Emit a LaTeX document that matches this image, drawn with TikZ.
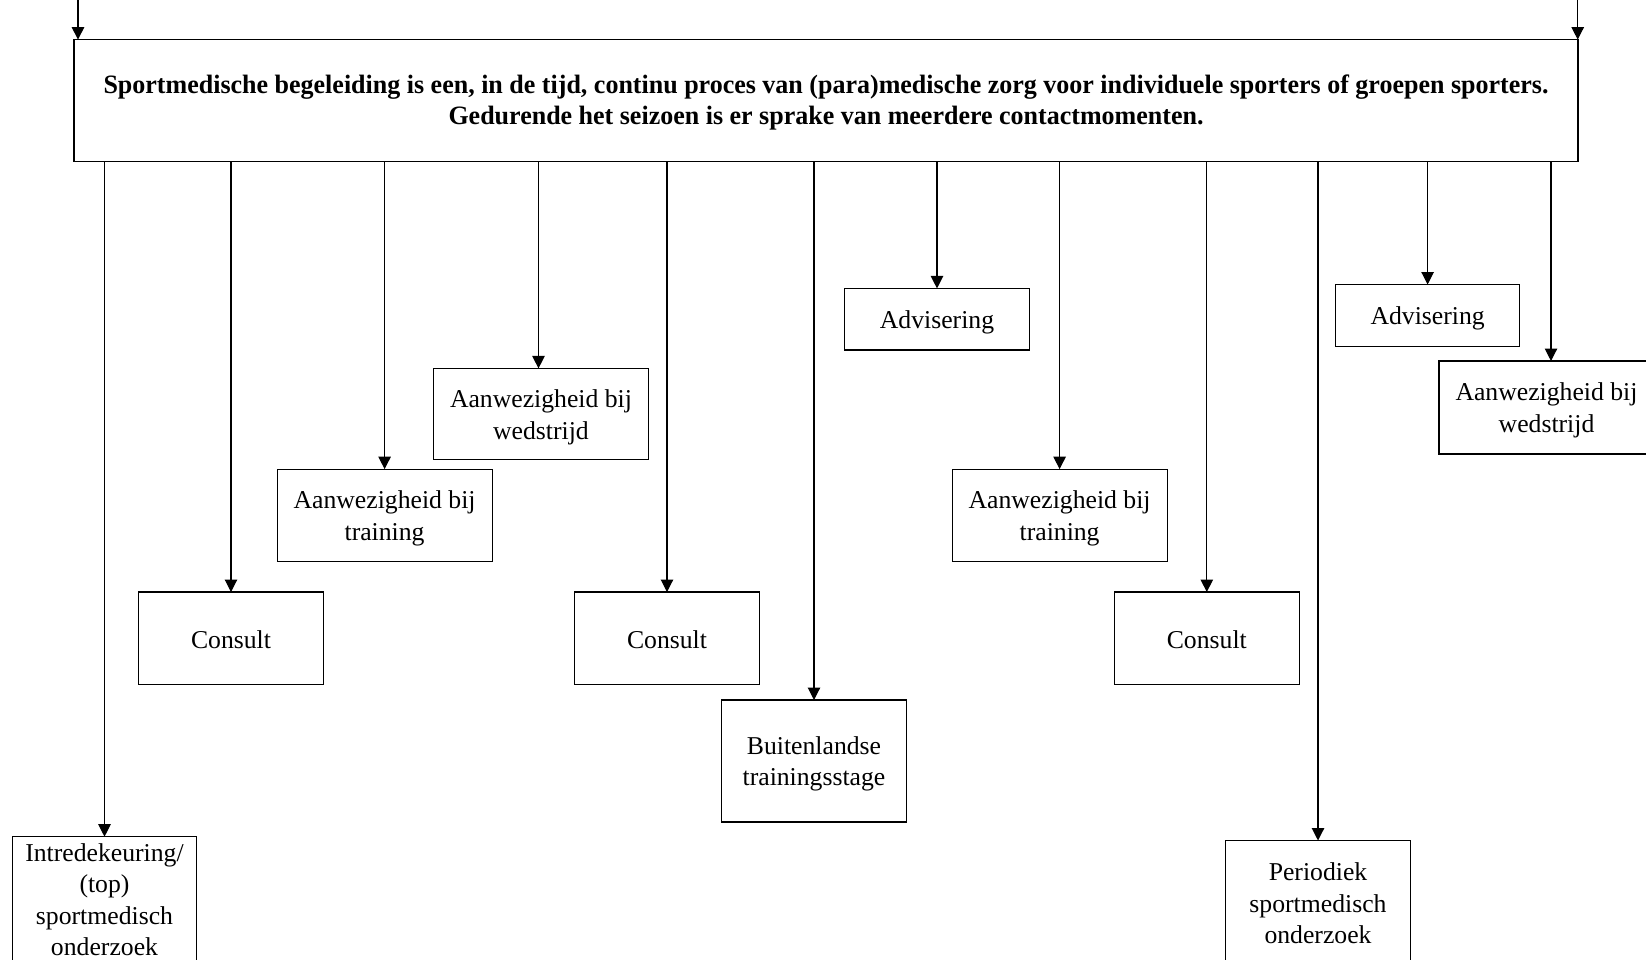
\documentclass[tikz,border=0pt]{standalone}
\usepackage{graphicx}
\usepackage{fontspec}
\setmainfont{Liberation Serif}
\usetikzlibrary{arrows.meta}
\newcommand\lowr[2][2.5pt]{\raisebox{-#1}[\height][\depth]{#2}}
\begin{document}
\begin{tikzpicture}[x=1pt,y=-1pt,
  box/.style={draw,line width=1.1pt,inner sep=0pt,outer sep=0pt,align=center,
    font=\fontsize{25.7}{31.5}\selectfont},
  smallbox/.style={box,minimum width=184.5pt,minimum height=92.4pt},
  widebox/.style={box,minimum width=215pt,minimum height=92.4pt},
  advbox/.style={box,minimum width=184.5pt,minimum height=61.5pt},
  tallbox/.style={box,minimum width=184.5pt,minimum height=123pt},
  mainbox/.style={draw,line width=1.1pt,inner sep=0pt,outer sep=0pt,align=center,
    minimum width=1504pt,minimum height=122.3pt,
    font=\fontsize{26.5}{31}\selectfont\bfseries},
  arr/.style={line width=1.1pt,-{Triangle[length=12.5pt,width=12.5pt]}}]
\useasboundingbox (0,0) rectangle (1646,960);
\clip (0,0) rectangle (1646,960);

\node[mainbox] (main) at (826,100.75)
  {\lowr[2.1pt]{\resizebox{1445pt}{\height}{Sportmedische begeleiding is een, in de tijd, continu proces van (para)medische zorg voor individuele sporters of groepen sporters.}}\\
   \lowr[2.1pt]{\resizebox{755pt}{\height}{Gedurende het seizoen is er sprake van meerdere contactmomenten.}}};

\node[tallbox,minimum height=124pt] (intre) at (104.5,898.7) {\lowr[1pt]{Intredekeuring/}\\\lowr[1pt]{(top)}\\\lowr[1pt]{sportmedisch}\\\lowr[1pt]{onderzoek}};
\node[smallbox] (consult1) at (231,638.2) {\lowr[1.2pt]{Consult}};
\node[widebox] (train1) at (384.6,515.3) {\lowr[3pt]{Aanwezigheid bij}\\\lowr[3pt]{training}};
\node[widebox,minimum height=91.4pt] (wed1) at (541,414.1) {\lowr[3pt]{Aanwezigheid bij}\\\lowr[3pt]{wedstrijd}};
\node[smallbox] (consult2) at (667,638.2) {\lowr[1.2pt]{Consult}};
\node[tallbox,minimum height=122pt] (buiten) at (814,761) {\lowr[3pt]{Buitenlandse}\\\lowr[3pt]{trainingsstage}};
\node[advbox] (advis1) at (937,319.2) {\lowr[3pt]{Advisering}};
\node[widebox] (train2) at (1059.6,515.3) {\lowr[3pt]{Aanwezigheid bij}\\\lowr[3pt]{training}};
\node[smallbox] (consult3) at (1206.8,638.2) {\lowr[1.2pt]{Consult}};
\node[tallbox] (period) at (1318,902) {\lowr[1.5pt]{Periodiek}\\\lowr[1.5pt]{sportmedisch}\\\lowr[1.5pt]{onderzoek}};
\node[advbox,minimum height=62pt] (advis2) at (1427.6,315.5) {\lowr[3pt]{Advisering}};
\node[widebox,minimum height=93pt] (wed2) at (1546.5,407.5) {\lowr[3pt]{Aanwezigheid bij}\\\lowr[3pt]{wedstrijd}};

\coordinate (tl) at (78,0);
\coordinate (tr) at (1577.7,0);
\draw[arr] (tl) -- (tl |- main.north);
\draw[arr] (tr) -- (tr |- main.north);

\coordinate (w1) at ([xshift=-2.5pt]wed1.north);
\coordinate (w2) at ([xshift=4.5pt]wed2.north);

\draw[arr] (main.south -| intre.north) -- (intre.north);
\draw[arr] (main.south -| consult1.north) -- (consult1.north);
\draw[arr] (main.south -| train1.north) -- (train1.north);
\draw[arr] (main.south -| w1) -- (w1);
\draw[arr] (main.south -| consult2.north) -- (consult2.north);
\draw[arr] (main.south -| buiten.north) -- (buiten.north);
\draw[arr] (main.south -| advis1.north) -- (advis1.north);
\draw[arr] (main.south -| train2.north) -- (train2.north);
\draw[arr] (main.south -| consult3.north) -- (consult3.north);
\draw[arr] (main.south -| period.north) -- (period.north);
\draw[arr] (main.south -| advis2.north) -- (advis2.north);
\draw[arr] (main.south -| w2) -- (w2);
\end{tikzpicture}
\end{document}
